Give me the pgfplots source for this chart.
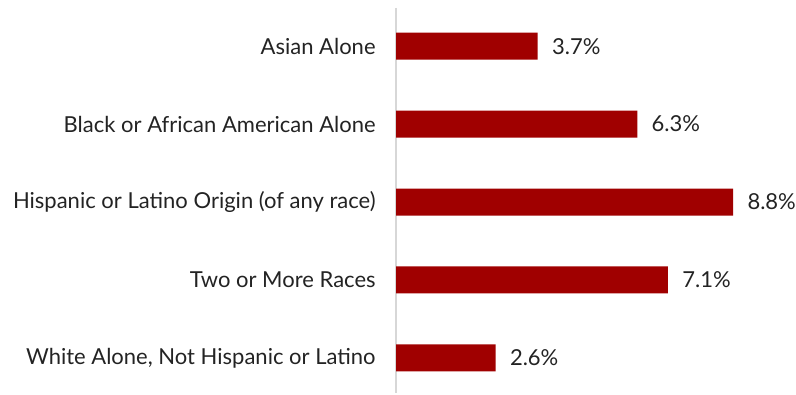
\documentclass[border=0pt]{standalone}
\usepackage{pgfplots}
\pgfplotsset{compat=1.18}
\usepackage{fontspec}
\setmainfont{Lato}
\definecolor{barred}{RGB}{160,0,0}
\definecolor{txt}{RGB}{35,35,35}
\definecolor{axgray}{RGB}{215,215,215}
\begin{document}
\begin{tikzpicture}
\useasboundingbox (0,0) rectangle (398pt,197.5pt);
\begin{axis}[
  at={(198pt,1pt)}, anchor=south west,
  scale only axis,
  width=199pt, height=192.5pt,
  xbar, bar width=13.5pt,
  xmin=0, xmax=10.39,
  ymin=-0.49, ymax=4.45,
  y dir=reverse,
  axis x line=none,
  axis y line*=left,
  y axis line style={axgray, line width=0.75pt},
  ytick={0,1,2,3,4},
  yticklabels={Asian Alone, Black or African American Alone, Hispanic or Latino Origin (of any race), Two or More Races, {White Alone, Not Hispanic or Latino}},
  major tick length=0pt,
  yticklabel style={anchor=east, inner sep=0pt, xshift=-10pt, font=\fontsize{11}{13}\selectfont, text=txt},
  /pgf/number format/assume math mode=true,
  nodes near coords={\pgfmathprintnumber[fixed,precision=1,fixed zerofill]{\pgfplotspointmeta}\%},
  nodes near coords style={anchor=west, inner sep=0pt, xshift=7pt, font=\fontsize{11}{13}\selectfont, text=txt},
  point meta=x,
  clip=false,
]
\addplot[fill=barred, draw=none] coordinates {(3.7,0) (6.3,1) (8.8,2) (7.1,3) (2.6,4)};
\end{axis}
\end{tikzpicture}
\end{document}
